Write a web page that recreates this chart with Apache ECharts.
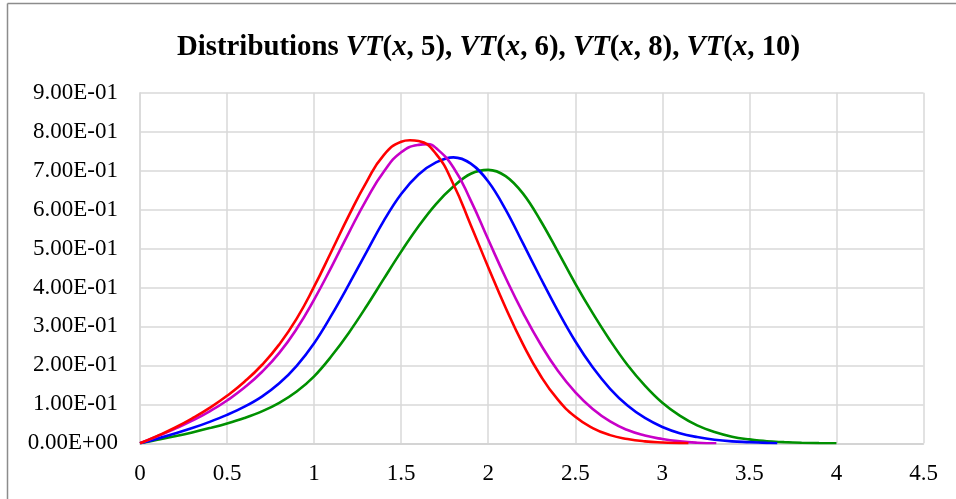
<!DOCTYPE html>
<html>
<head>
<meta charset="utf-8">
<script src="https://cdn.jsdelivr.net/npm/echarts@6/dist/echarts.min.js"></script>
<style>
html,body{margin:0;padding:0;background:#fff;}
#chart{width:956px;height:499px;}
</style>
</head>
<body>
<div id="chart"></div>
<script>
// ---- data ----
var xTickLabels = ['0','0.5','1','1.5','2','2.5','3','3.5','4','4.5'];
var yTickLabels = ['0.00E+00','1.00E-01','2.00E-01','3.00E-01','4.00E-01','5.00E-01','6.00E-01','7.00E-01','8.00E-01','9.00E-01'];

var xN5 = [0,0.1,0.2,0.3,0.4,0.5,0.6,0.7,0.8,0.9,1.0,1.1,1.2,1.3,1.4,1.5,1.55,1.6,1.7,1.8,1.9,2.0,2.1,2.2,2.3,2.4,2.5,2.6,2.7,2.8,2.9,3.0,3.1,3.15];
var yN5 = [0,0.019,0.040,0.064,0.091,0.122,0.158,0.201,0.254,0.320,0.402,0.493,0.585,0.670,0.740,0.774,0.778,0.776,0.743,0.665,0.560,0.452,0.348,0.254,0.174,0.112,0.068,0.039,0.021,0.011,0.005,0.002,0.0005,0];

var xN6 = [0,0.1,0.2,0.3,0.4,0.5,0.6,0.7,0.8,0.9,1.0,1.1,1.2,1.3,1.4,1.5,1.6,1.65,1.7,1.8,1.9,2.0,2.1,2.2,2.3,2.4,2.5,2.6,2.7,2.8,2.9,3.0,3.1,3.2,3.31];
var yN6 = [0,0.018,0.037,0.058,0.082,0.110,0.143,0.183,0.232,0.294,0.369,0.453,0.541,0.625,0.697,0.747,0.766,0.768,0.758,0.708,0.623,0.523,0.425,0.335,0.255,0.186,0.131,0.088,0.056,0.034,0.020,0.011,0.005,0.0015,0];

var xN8 = [0,0.1,0.2,0.3,0.4,0.5,0.6,0.7,0.8,0.9,1.0,1.1,1.2,1.3,1.4,1.5,1.6,1.7,1.8,1.9,2.0,2.1,2.2,2.3,2.4,2.5,2.6,2.7,2.8,2.9,3.0,3.1,3.2,3.3,3.4,3.5,3.6,3.66];
var yN8 = [0,0.012,0.025,0.039,0.055,0.073,0.094,0.120,0.154,0.199,0.257,0.329,0.408,0.490,0.571,0.640,0.690,0.721,0.734,0.718,0.672,0.600,0.513,0.425,0.340,0.262,0.195,0.140,0.097,0.065,0.042,0.026,0.016,0.009,0.005,0.003,0.001,0];

var xN10 = [0,0.1,0.2,0.3,0.4,0.5,0.6,0.7,0.8,0.9,1.0,1.1,1.2,1.3,1.4,1.5,1.6,1.7,1.8,1.9,2.0,2.1,2.2,2.3,2.4,2.5,2.6,2.7,2.8,2.9,3.0,3.1,3.2,3.3,3.4,3.5,3.6,3.7,3.8,3.9,4.0];
var yN10 = [0,0.009,0.018,0.028,0.039,0.051,0.065,0.082,0.104,0.133,0.172,0.224,0.284,0.351,0.422,0.492,0.557,0.614,0.659,0.692,0.702,0.686,0.641,0.572,0.492,0.410,0.334,0.264,0.201,0.148,0.104,0.071,0.046,0.029,0.017,0.010,0.005,0.003,0.0015,0.0005,0];

function pairs(xs, ys){ return xs.map(function(x,i){ return [x, ys[i]]; }); }

var chart = echarts.init(document.getElementById('chart'));
var serif = '"Liberation Serif","Times New Roman",serif';
function mkSeries(name, xs, ys, color, sm){
  return {
    name: name, type: 'line', data: pairs(xs, ys), smooth: sm,
    showSymbol: false, symbol: 'none',
    lineStyle: {color: color, width: 2.6}, itemStyle: {color: color}
  };
}
chart.setOption({
  animation: false,
  backgroundColor: '#fff',
  title: {
    left: 172, top: 28,
    text: '{b|Distributions }{bi|VT}{b|(}{bi|x}{b|, 5), }{bi|VT}{b|(}{bi|x}{b|, 6), }{bi|VT}{b|(}{bi|x}{b|, 8), }{bi|VT}{b|(}{bi|x}{b|, 10)}',
    textStyle: {
      rich: {
        b: {fontFamily: serif, fontWeight: 'bold', fontSize: 28.8, color: '#000'},
        bi: {fontFamily: serif, fontWeight: 'bold', fontStyle: 'italic', fontSize: 28.8, color: '#000'}
      }
    }
  },
  grid: {left: 140, right: 32.5, top: 92.7, bottom: 55.7, containLabel: false},
  xAxis: {
    type: 'value', min: 0, max: 4.5, interval: 0.5,
    axisLine: {show: true, lineStyle: {color: '#d0d0d0', width: 1.5}},
    axisTick: {show: false},
    splitLine: {show: true, lineStyle: {color: '#d9d9d9', width: 1.5}},
    axisLabel: {
      margin: 19, color: '#000', fontFamily: serif, fontSize: 23,
      formatter: function(v){ return xTickLabels[Math.round(v/0.5)]; }
    }
  },
  yAxis: {
    type: 'value', min: 0, max: 0.9, interval: 0.1,
    axisLine: {show: true, lineStyle: {color: '#d9d9d9', width: 1.5}},
    axisTick: {show: false},
    splitLine: {show: true, lineStyle: {color: '#d9d9d9', width: 1.5}},
    axisLabel: {
      margin: 22, color: '#000', fontFamily: serif, fontSize: 23,
      formatter: function(v){ return yTickLabels[Math.round(v/0.1)]; }
    }
  },
  graphic: [
    {type: 'line', shape: {x1: 7.5, y1: 3.5, x2: 7.5, y2: 499}, style: {stroke: '#8c8c8c', lineWidth: 1.5}, silent: true},
    {type: 'line', shape: {x1: 7.5, y1: 3.5, x2: 956, y2: 3.5}, style: {stroke: '#8c8c8c', lineWidth: 1.5}, silent: true}
  ],
  series: [
    mkSeries('VT(x, 10)', xN10, yN10, '#009000', 0.4),
    mkSeries('VT(x, 8)', xN8, yN8, '#0000ff', 0.4),
    mkSeries('VT(x, 6)', xN6, yN6, '#c800c8', 0.5),
    mkSeries('VT(x, 5)', xN5, yN5, '#ff0000', 0.5)
  ]
});
</script>
</body>
</html>
